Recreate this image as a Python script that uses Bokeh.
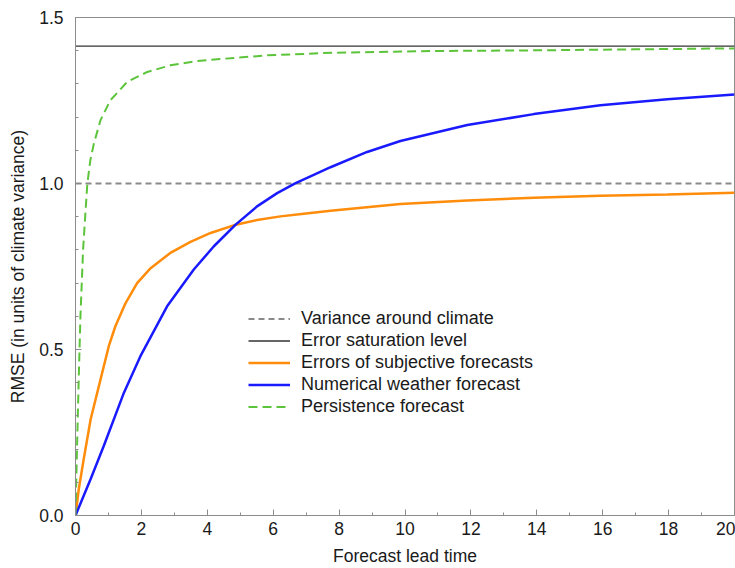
from bokeh.plotting import figure
from bokeh.models import Range1d, Legend, LegendItem, SingleIntervalTicker, PrintfTickFormatter
from bokeh.embed import file_html
from bokeh.resources import INLINE

# ---- data ----
lead_range = [0, 20]
climate_variance = 1.0
saturation_level = 1.414

subj_x = [0, 0.1, 0.25, 0.46, 0.76, 1.01, 1.21, 1.52, 1.87, 2.28, 2.88, 3.49, 4.1, 4.8,
          5.51, 6.22, 6.93, 7.74, 9.86, 11.89, 13.91, 15.93, 17.96, 20]
subj_y = [0, 0.08, 0.17, 0.29, 0.41, 0.51, 0.57, 0.64, 0.70, 0.745, 0.791, 0.824, 0.851, 0.874,
          0.890, 0.901, 0.909, 0.918, 0.938, 0.949, 0.957, 0.963, 0.967, 0.972]

nwp_x = [0, 0.46, 0.86, 1.47, 1.97, 2.78, 3.59, 4.2, 4.86, 5.51, 6.12, 6.68, 7.23, 7.74, 8.85, 9.86,
         11.89, 13.91, 15.93, 17.96, 20]
nwp_y = [0, 0.11, 0.21, 0.37, 0.48, 0.63, 0.741, 0.811, 0.876, 0.931, 0.971, 1.001, 1.026, 1.049, 1.095, 1.128,
         1.176, 1.209, 1.236, 1.254, 1.268]

pers_x = [0, 0.05, 0.1, 0.15, 0.23, 0.3, 0.36, 0.45, 0.56, 0.76, 1.06, 1.57, 2.18, 2.88, 3.69,
          4.4, 5.82, 7.84, 10.88, 13.91, 16.94, 20]
pers_y = [0, 0.22, 0.42, 0.6, 0.8, 0.91, 1.0, 1.07, 1.121, 1.191, 1.251, 1.306, 1.336, 1.356, 1.369,
          1.375, 1.386, 1.394, 1.399, 1.401, 1.404, 1.407]

FONT = "Liberation Sans"
AXIS_COLOR = "#8c8c8c"
TEXT_COLOR = "#1a1a1a"

p = figure(width=735, height=568, output_backend="svg", toolbar_location=None,
           x_range=Range1d(0, 20), y_range=Range1d(0, 1.5),
           min_border_left=75, min_border_right=1, min_border_top=17, min_border_bottom=51)

p.grid.visible = False
p.outline_line_color = AXIS_COLOR
p.outline_line_width = 1

for ax in [p.xaxis[0], p.yaxis[0]]:
    ax.major_tick_out = 0
    ax.major_tick_in = 6
    ax.minor_tick_out = 0
    ax.minor_tick_in = 3
    ax.axis_line_color = AXIS_COLOR
    ax.major_tick_line_color = AXIS_COLOR
    ax.minor_tick_line_color = AXIS_COLOR
    ax.major_label_text_font = FONT
    ax.major_label_text_font_size = "17.5px"
    ax.major_label_text_color = TEXT_COLOR
    ax.axis_label_text_font = FONT
    ax.axis_label_text_font_size = "17.5px"
    ax.axis_label_text_font_style = "normal"
    ax.axis_label_text_color = TEXT_COLOR

p.xaxis[0].ticker = SingleIntervalTicker(interval=2, num_minor_ticks=2)
p.yaxis[0].ticker = SingleIntervalTicker(interval=0.5, num_minor_ticks=5)
p.yaxis[0].formatter = PrintfTickFormatter(format="%.1f")
p.xaxis[0].axis_label = "Forecast lead time"
p.yaxis[0].axis_label = "RMSE (in units of climate variance)"
p.xaxis[0].major_label_standoff = 6
p.yaxis[0].major_label_standoff = 12
p.xaxis[0].axis_label_standoff = 8
p.yaxis[0].axis_label_standoff = 8

r_clim = p.line(x=lead_range, y=[climate_variance, climate_variance],
                line_color="#8a8a8a", line_width=2, line_dash="6 4")
r_sat = p.line(x=lead_range, y=[saturation_level, saturation_level],
               line_color="#333333", line_width=1.3)
r_subj = p.line(x=subj_x, y=subj_y, line_color="#ff8c0a", line_width=2.5)
r_nwp = p.line(x=nwp_x, y=nwp_y, line_color="#1a1aff", line_width=2.5)
r_pers = p.line(x=pers_x, y=pers_y, line_color="#5cc43a", line_width=2, line_dash="9 5")

legend = Legend(items=[
    LegendItem(label="Variance around climate", renderers=[r_clim]),
    LegendItem(label="Error saturation level", renderers=[r_sat]),
    LegendItem(label="Errors of subjective forecasts", renderers=[r_subj]),
    LegendItem(label="Numerical weather forecast", renderers=[r_nwp]),
    LegendItem(label="Persistence forecast", renderers=[r_pers]),
], location=(173, 98))
legend.padding = 0
legend.margin = 0
legend.spacing = 1
legend.border_line_color = None
legend.background_fill_alpha = 0
legend.glyph_width = 42
legend.glyph_height = 21
legend.label_height = 21
legend.label_standoff = 11
legend.label_text_font = FONT
legend.label_text_font_size = "18px"
legend.label_text_color = TEXT_COLOR
p.add_layout(legend, "center")

open("out.html", "w").write(file_html(p, INLINE))
